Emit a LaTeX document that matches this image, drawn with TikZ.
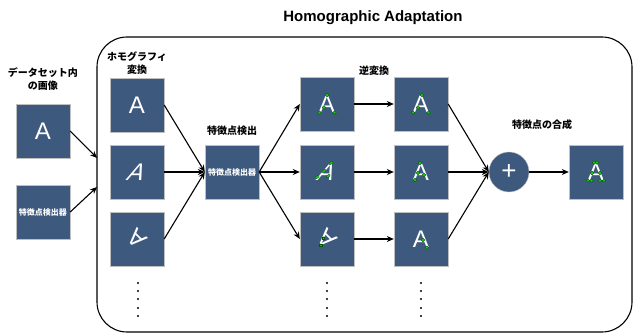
\documentclass[tikz,border=0pt]{standalone}
\usepackage{fontspec}
\setmainfont{Liberation Sans}
\newfontfamily\jp{Noto Sans CJK JP}
\usetikzlibrary{arrows.meta}
\definecolor{boxblue}{HTML}{3E597E}
\definecolor{kpgreen}{HTML}{1CC41C}

\begin{document}
\begin{tikzpicture}[x=1pt,y=-1pt,
  img/.style={rectangle,fill=boxblue,draw=black!25,line width=0.4pt,minimum size=54pt,inner sep=0pt},
  glyph/.style={text=white,font=\fontsize{24}{24}\selectfont,inner sep=0pt},
  lbl/.style={font=\jp\bfseries\fontsize{10}{12.5}\selectfont,align=center},
  inlbl/.style={text=white,font=\jp\bfseries\fontsize{8}{8}\selectfont},
  kp/.style={fill=kpgreen,draw=green!35!black,line width=0.3pt},
  arr/.style={line width=1.1pt,-{Stealth[length=7pt,width=6pt]}}]
\useasboundingbox (0,0) rectangle (633,336);

\node[font=\bfseries\fontsize{15}{15}\selectfont] (title) at (373,18) {Homographic Adaptation};
\draw[line width=1.1pt,rounded corners=30pt] (97,37) rectangle (632,332);
\coordinate (in1) at (97,158);
\coordinate (in2) at (97,187);

\node[lbl] (l0) at (43,79) {データセット内\\の画像};
\node[lbl] (l1) at (137,63) {ホモグラフィ\\変換};
\node[lbl] (l2) at (232,131) {特徴点検出};
\node[lbl] (l3) at (374,71) {逆変換};
\node[lbl] (l4) at (542,125) {特徴点の合成};

\node[img,glyph] (img) at (43,131) {A};
\node[img,inlbl] (det0) at (43,212) {特徴点検出器};
\node[img,glyph] (h1) at (137,105) {A};
\node[img] (h2) at (137,172) {};
\node[img] (h3) at (137,239) {};
\node[glyph,xslant=0.45] at (h2) {A};
\node[glyph,rotate=135] at (h3) {A};
\node[img,inlbl] (det) at (232,172) {特徴点検出器};
\foreach \y [count=\i] in {104,172,239} {
  \node[img] (k\i) at (327,\y) {};
  \node[img,glyph] (i\i) at (421,\y) {A};
}
\node[circle,fill=boxblue,draw=black!25,line width=0.4pt,minimum size=40pt,inner sep=0pt,
  text=white,font=\fontsize{26}{26}\selectfont] (sum) at (509,172) {+};
\node[img,glyph] (out) at (596,172) {A};

\node[glyph] at (k1) {A};
\foreach \x/\y in {0/-9,-3/3.5,-7.5/8.6,7.5/8.6} \fill[kp,shift={(k1)}] (\x,\y) circle (1.8);
\begin{scope}[shift={(k2)},xslant=0.45]
\node[glyph,transform shape] {A};
\foreach \x/\y in {0/-9,-3.5/-1,-7.5/5,3/4} \fill[kp] (\x,\y) circle (1.8);
\end{scope}
\begin{scope}[shift={(k3)},rotate=135]
\node[glyph,transform shape] {A};
\foreach \x/\y in {3.5/-2,0.3/-9} \fill[kp] (\x,\y) circle (1.8);
\end{scope}
\foreach \x/\y in {1/-9,-3/3.5,-8/8.6,7.5/8.6} \fill[kp,shift={(i1)}] (\x,\y) circle (1.8);
\foreach \x/\y in {-1/-9,-3/1,-6/8,3/3} \fill[kp,shift={(i2)}] (\x,\y) circle (1.8);
\foreach \x/\y in {2/1,6/8.6} \fill[kp,shift={(i3)}] (\x,\y) circle (1.8);
\foreach \x/\y in {-2/-9.5,1/-9.5,-4/1,4/1,-8/8.6,-4.5/8.6,4/8.6,8/8.6} \fill[kp,shift={(out)}] (\x,\y) circle (1.8);

\foreach \x in {138,327,421}
  \foreach \y in {283,291,299,308,316} \fill (\x,\y) circle (1.2);

\draw[arr] (img.east) -- (in1);
\draw[arr] (det0.east) -- (in2);
\foreach \n in {h1,h2,h3} \draw[arr] (\n.east) -- (det.west);
\foreach \n in {k1,k2,k3} \draw[arr] (det.east) -- (\n.west);
\foreach \i in {1,2,3} \draw[arr] (k\i.east) -- (i\i.west);
\foreach \n in {i1,i2,i3} \draw[arr] (\n.east) -- (sum.west);
\draw[arr] (sum) -- (out);
\end{tikzpicture}
\end{document}
